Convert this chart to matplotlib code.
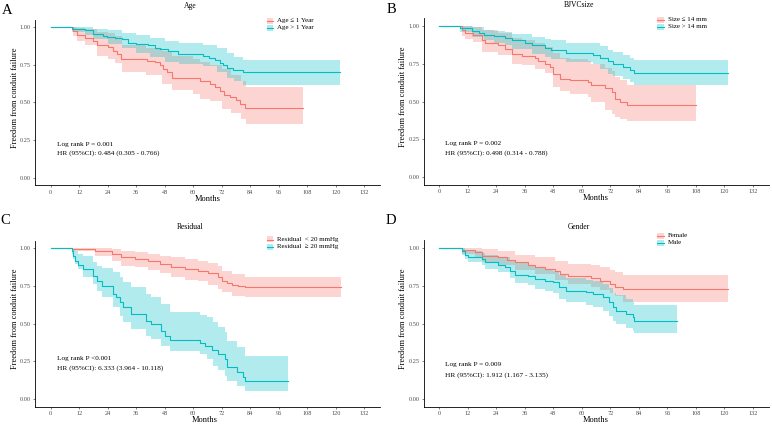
import matplotlib
matplotlib.use("Agg")
import matplotlib.pyplot as plt
from matplotlib.patches import Rectangle
from matplotlib.lines import Line2D

plt.rcParams['font.family'] = ['Liberation Serif', 'DejaVu Serif']

RED = "#F8766D"
CYAN = "#00BFC4"

# ---------------- DATA ----------------
# A: Age
age_le1_t = [0, 9.5, 10.9, 14.4, 17.9, 19.3, 24.0, 26.4, 27.8, 29.6, 40.4, 43.9, 46.0, 47.4, 48.8, 50.9, 62.8, 67.0, 69.0, 71.2, 73.0, 75.5, 78.0, 79.7, 81.8, 106.0]
age_le1_s = [1.0, 0.973, 0.947, 0.929, 0.907, 0.884, 0.869, 0.84, 0.822, 0.787, 0.774, 0.768, 0.747, 0.725, 0.703, 0.661, 0.643, 0.623, 0.60, 0.579, 0.55, 0.534, 0.517, 0.488, 0.466, 0.466]
age_le1_ci_t = [9.5, 11.0, 14.4, 19.3, 24.0, 27.0, 30.0, 40.0, 47.0, 51.0, 60.0, 63.0, 67.0, 72.0, 76.0, 80.0, 82.0, 106.0]
age_le1_lo = [0.94, 0.91, 0.88, 0.81, 0.79, 0.76, 0.70, 0.68, 0.625, 0.58, 0.555, 0.525, 0.51, 0.46, 0.43, 0.39, 0.36, 0.36]
age_le1_hi = [1.0, 0.995, 0.99, 0.97, 0.96, 0.94, 0.88, 0.86, 0.84, 0.81, 0.79, 0.77, 0.75, 0.72, 0.68, 0.64, 0.60, 0.60]

age_gt1_t = [0, 9.0, 14.4, 17.9, 22.2, 23.8, 27.0, 29.9, 32.6, 36.0, 41.0, 43.9, 46.0, 49.5, 53.7, 64.2, 66.8, 69.0, 71.2, 72.6, 74.0, 76.9, 81.0, 121.9]
age_gt1_s = [1.0, 0.99, 0.98, 0.957, 0.945, 0.935, 0.93, 0.924, 0.897, 0.89, 0.88, 0.865, 0.855, 0.84, 0.825, 0.812, 0.795, 0.782, 0.765, 0.748, 0.73, 0.715, 0.70, 0.70]
age_gt1_ci_t = [9.0, 14.4, 18.0, 24.0, 30.0, 36.0, 42.0, 48.0, 54.0, 64.0, 70.0, 74.0, 77.0, 81.0, 121.9]
age_gt1_lo = [0.97, 0.95, 0.92, 0.89, 0.86, 0.83, 0.80, 0.77, 0.755, 0.745, 0.70, 0.665, 0.64, 0.618, 0.618]
age_gt1_hi = [1.0, 1.0, 0.99, 0.98, 0.965, 0.95, 0.93, 0.91, 0.895, 0.885, 0.86, 0.83, 0.80, 0.785, 0.785]

# B: BJVC size
size_le14_t = [0, 9.4, 10.8, 14.3, 17.8, 19.2, 24.8, 27.6, 30.4, 34.6, 40.2, 41.6, 44.4, 46.5, 47.9, 50.7, 54.9, 62.6, 64.0, 69.7, 72.5, 73.9, 76.0, 78.8, 108.0]
size_le14_s = [1.0, 0.972, 0.956, 0.943, 0.905, 0.888, 0.872, 0.846, 0.813, 0.802, 0.788, 0.767, 0.751, 0.729, 0.685, 0.652, 0.641, 0.63, 0.612, 0.59, 0.565, 0.515, 0.495, 0.476, 0.476]
size_le14_ci_t = [9.4, 10.8, 14.3, 17.8, 24.8, 30.4, 34.6, 40.2, 44.4, 47.9, 50.7, 54.9, 62.6, 64.0, 69.7, 72.5, 73.9, 76.0, 78.8, 108.0]
size_le14_lo = [0.935, 0.916, 0.895, 0.828, 0.806, 0.751, 0.74, 0.718, 0.69, 0.597, 0.57, 0.553, 0.531, 0.50, 0.443, 0.42, 0.40, 0.385, 0.37, 0.37]
size_le14_hi = [1.0, 0.998, 0.995, 0.975, 0.955, 0.92, 0.91, 0.89, 0.86, 0.82, 0.79, 0.78, 0.77, 0.75, 0.72, 0.70, 0.665, 0.645, 0.608, 0.608]

size_gt14_t = [0, 8.9, 13.9, 16.7, 18.8, 23.0, 27.6, 30.4, 36.0, 38.8, 44.4, 47.2, 53.5, 64.5, 67.6, 71.1, 73.2, 77.4, 80.2, 82.0, 121.6]
size_gt14_s = [1.0, 0.987, 0.965, 0.954, 0.943, 0.934, 0.923, 0.905, 0.89, 0.872, 0.855, 0.841, 0.824, 0.81, 0.788, 0.767, 0.751, 0.729, 0.707, 0.689, 0.689]
size_gt14_ci_t = [8.9, 13.9, 18.8, 23.0, 27.6, 30.4, 38.8, 44.4, 47.2, 53.5, 64.5, 67.6, 71.1, 73.2, 77.4, 80.2, 82.0, 121.6]
size_gt14_lo = [0.96, 0.927, 0.905, 0.89, 0.872, 0.846, 0.817, 0.795, 0.78, 0.762, 0.751, 0.718, 0.685, 0.67, 0.652, 0.63, 0.608, 0.608]
size_gt14_hi = [1.0, 0.99, 0.975, 0.965, 0.96, 0.95, 0.93, 0.916, 0.905, 0.89, 0.885, 0.865, 0.84, 0.83, 0.806, 0.79, 0.773, 0.773]

# C: Residual
res_lt20_t = [0, 8.8, 18.6, 25.6, 29.8, 35.4, 41.0, 45.9, 50.8, 56.4, 62.0, 66.3, 70.6, 72.0, 74.1, 76.2, 79.0, 81.8, 122.0]
res_lt20_s = [1.0, 0.995, 0.984, 0.962, 0.94, 0.929, 0.914, 0.896, 0.874, 0.863, 0.851, 0.836, 0.808, 0.785, 0.768, 0.759, 0.748, 0.74, 0.74]
res_lt20_ci_t = [8.8, 18.6, 25.6, 29.8, 35.4, 41.0, 45.9, 50.8, 56.4, 62.0, 66.3, 70.6, 72.0, 76.2, 81.8, 122.0]
res_lt20_lo = [0.984, 0.951, 0.918, 0.885, 0.874, 0.856, 0.834, 0.808, 0.79, 0.781, 0.759, 0.73, 0.708, 0.686, 0.675, 0.675]
res_lt20_hi = [1.0, 1.0, 0.995, 0.985, 0.973, 0.962, 0.951, 0.94, 0.929, 0.915, 0.90, 0.88, 0.851, 0.83, 0.812, 0.812]

res_ge20_t = [0, 8.8, 9.5, 10.2, 11.6, 13.7, 17.9, 19.3, 21.4, 26.3, 27.7, 29.1, 30.5, 34.0, 40.3, 42.4, 46.6, 48.0, 50.1, 62.8, 65.0, 67.8, 70.6, 73.4, 74.1, 78.3, 81.1, 81.8, 100.0]
res_ge20_s = [1.0, 0.984, 0.951, 0.918, 0.891, 0.863, 0.818, 0.781, 0.752, 0.697, 0.68, 0.642, 0.609, 0.564, 0.52, 0.498, 0.453, 0.42, 0.394, 0.372, 0.35, 0.325, 0.299, 0.265, 0.214, 0.177, 0.148, 0.121, 0.121]
res_ge20_ci_t = [8.8, 9.5, 10.2, 11.6, 13.7, 17.9, 19.3, 21.4, 26.3, 29.1, 30.5, 34.0, 40.3, 42.4, 46.6, 50.1, 62.8, 65.6, 68.4, 70.6, 73.4, 74.1, 78.3, 81.8, 100.0]
res_ge20_lo = [0.96, 0.929, 0.896, 0.863, 0.808, 0.763, 0.719, 0.675, 0.609, 0.553, 0.509, 0.465, 0.42, 0.398, 0.354, 0.32, 0.30, 0.265, 0.221, 0.192, 0.155, 0.121, 0.088, 0.055, 0.055]
res_ge20_hi = [1.0, 0.99, 0.98, 0.965, 0.951, 0.907, 0.885, 0.87, 0.841, 0.808, 0.774, 0.741, 0.697, 0.675, 0.63, 0.575, 0.56, 0.542, 0.509, 0.476, 0.443, 0.387, 0.343, 0.288, 0.288]

# D: Gender
female_t = [0, 9.4, 15.0, 17.8, 24.8, 28.3, 31.8, 37.4, 40.2, 44.4, 48.6, 50.7, 54.2, 64.0, 67.6, 71.8, 73.9, 77.4, 121.6]
female_s = [1.0, 0.987, 0.971, 0.949, 0.938, 0.921, 0.905, 0.889, 0.876, 0.861, 0.85, 0.828, 0.813, 0.801, 0.779, 0.762, 0.744, 0.728, 0.728]
female_ci_t = [9.4, 15.0, 17.8, 24.8, 31.8, 40.2, 48.6, 54.2, 64.0, 67.6, 71.8, 73.9, 77.4, 121.6]
female_lo = [0.96, 0.94, 0.905, 0.89, 0.855, 0.83, 0.79, 0.765, 0.745, 0.72, 0.70, 0.68, 0.64, 0.64]
female_hi = [1.0, 1.0, 0.995, 0.98, 0.955, 0.938, 0.916, 0.894, 0.885, 0.872, 0.857, 0.84, 0.823, 0.823]

male_t = [0, 9.4, 10.8, 12.2, 17.8, 19.2, 24.8, 27.6, 29.7, 31.8, 37.4, 40.2, 44.4, 47.9, 50.5, 53.3, 61.7, 64.5, 68.7, 71.5, 72.9, 74.3, 78.5, 81.3, 82.0, 99.9]
male_s = [1.0, 0.978, 0.956, 0.942, 0.927, 0.905, 0.89, 0.872, 0.85, 0.823, 0.812, 0.795, 0.784, 0.773, 0.74, 0.717, 0.706, 0.695, 0.673, 0.64, 0.607, 0.585, 0.563, 0.541, 0.519, 0.519]
male_ci_t = [9.4, 10.8, 12.2, 17.8, 19.2, 24.8, 29.7, 31.8, 37.4, 40.2, 44.4, 47.9, 50.5, 53.3, 61.7, 64.5, 68.7, 71.5, 72.9, 74.3, 78.5, 81.3, 82.0, 99.9]
male_lo = [0.955, 0.93, 0.91, 0.885, 0.86, 0.84, 0.80, 0.77, 0.755, 0.73, 0.715, 0.70, 0.665, 0.64, 0.625, 0.61, 0.585, 0.55, 0.515, 0.495, 0.47, 0.45, 0.435, 0.435]
male_hi = [1.0, 0.99, 0.98, 0.965, 0.955, 0.94, 0.915, 0.90, 0.89, 0.87, 0.86, 0.845, 0.82, 0.80, 0.79, 0.78, 0.765, 0.735, 0.705, 0.69, 0.665, 0.645, 0.623, 0.623]

x_ticks = list(range(0, 133, 12))
y_ticks = [0.0, 0.25, 0.5, 0.75, 1.0]

# ---------------- FIGURE ----------------
W, H = 772, 428
fig = plt.figure(figsize=(W / 100, H / 100), dpi=100)


def fx(x):
    return x / W


def fy(y):
    return 1 - y / H


def make_axes(left, top, right, bottom):
    ax = fig.add_axes([fx(left), fy(bottom), (right - left) / W, (bottom - top) / H])
    ax.set_xlim(-6.6, 138.6)
    ax.set_ylim(-0.05, 1.05)
    ax.set_xticks(x_ticks)
    ax.set_yticks(y_ticks)
    ax.set_yticklabels([f"{v:.2f}" for v in y_ticks])
    for side in ("top", "right"):
        ax.spines[side].set_visible(False)
    for side in ("left", "bottom"):
        ax.spines[side].set_linewidth(0.6)
    ax.tick_params(labelsize=4.5, colors="#4D4D4D", length=1.6, width=0.5, pad=1.5)
    return ax


def draw_km(ax, t, s, ci_t, lo, hi, color):
    ax.fill_between(ci_t, lo, hi, step="post", color=color, alpha=0.3, lw=0)
    return lambda: ax.step(t, s, where="post", color=color, lw=0.8)


def legend(x, y, labels, dy=7.0):
    for i, (lab, col) in enumerate(zip(labels, [RED, CYAN])):
        yy = y + i * dy
        fig.add_artist(Rectangle((fx(x - 3.3), fy(yy + 3)), 6.6 / W, 6 / H,
                                 transform=fig.transFigure, color=col, alpha=0.3, lw=0))
        fig.add_artist(Line2D([fx(x - 3.3), fx(x + 3.3)], [fy(yy), fy(yy)],
                              transform=fig.transFigure, color=col, lw=0.8))
        fig.text(fx(x + 7), fy(yy), lab, fontsize=5, va="center", ha="left")


panels = [
    dict(box=(35, 19.8, 380, 185.2), letter="A", lpos=(7, 11), title="Age", tpos=(190, 6),
         ylab=(15, 97.5), xlab=(207.5, 199),
         curves=[(age_le1_t, age_le1_s, age_le1_ci_t, age_le1_lo, age_le1_hi),
                 (age_gt1_t, age_gt1_s, age_gt1_ci_t, age_gt1_lo, age_gt1_hi)],
         leg=(270, 20.7, ["Age \u2264 1 Year", "Age > 1 Year"]),
         txt=("Log rank P = 0.001", "HR (95%CI): 0.484 (0.305 - 0.766)", 0.224, 0.162)),
    dict(box=(423.6, 18.4, 768.7, 184.9), letter="B", lpos=(391.5, 9.5), title="BJVCsize", tpos=(579, 5),
         ylab=(402.7, 97), xlab=(596, 198.5),
         curves=[(size_le14_t, size_le14_s, size_le14_ci_t, size_le14_lo, size_le14_hi),
                 (size_gt14_t, size_gt14_s, size_gt14_ci_t, size_gt14_lo, size_gt14_hi)],
         leg=(660.5, 19.8, ["Size \u2264 14 mm", "Size > 14 mm"]),
         txt=("Log rank P = 0.002", "HR (95%CI): 0.498 (0.314 - 0.788)", 0.225, 0.159)),
    dict(box=(35, 240.8, 380, 406.5), letter="C", lpos=(5.5, 221), title="Residual", tpos=(190, 227),
         ylab=(15, 318.6), xlab=(205, 420.5),
         curves=[(res_lt20_t, res_lt20_s, res_lt20_ci_t, res_lt20_lo, res_lt20_hi),
                 (res_ge20_t, res_ge20_s, res_ge20_ci_t, res_ge20_lo, res_ge20_hi)],
         leg=(270, 239.5, ["Residual  < 20 mmHg", "Residual  \u2265 20 mmHg"]),
         txt=("Log rank P <0.001", "HR (95%CI): 6.333 (3.964 - 10.118)", 0.27, 0.206)),
    dict(box=(423.6, 240.5, 768.7, 406.5), letter="D", lpos=(391, 221), title="Gender", tpos=(579, 227),
         ylab=(402.7, 318.5), xlab=(596, 420.5),
         curves=[(female_t, female_s, female_ci_t, female_lo, female_hi),
                 (male_t, male_s, male_ci_t, male_lo, male_hi)],
         leg=(660.5, 235.7, ["Female", "Male"]),
         txt=("Log rank P = 0.009", "HR (95%CI): 1.912 (1.167 - 3.135)", 0.227, 0.161)),
]

for p in panels:
    ax = make_axes(*p["box"])
    lines = []
    for c, col in zip(p["curves"], [RED, CYAN]):
        lines.append(draw_km(ax, *c, col))
    for draw in lines:
        draw()
    t1, t2, y1, y2 = p["txt"]
    ax.text(2.5, y1, t1, fontsize=5.2, va="center", ha="left")
    ax.text(2.5, y2, t2, fontsize=5.2, va="center", ha="left")
    fig.text(fx(p["lpos"][0]), fy(p["lpos"][1]), p["letter"], fontsize=10.5, ha="center", va="center")
    fig.text(fx(p["tpos"][0]), fy(p["tpos"][1]), p["title"], fontsize=5.5, ha="center", va="center")
    fig.text(fx(p["ylab"][0]), fy(p["ylab"][1]), "Freedom from conduit failure", fontsize=6,
             rotation=90, ha="center", va="center")
    fig.text(fx(p["xlab"][0]), fy(p["xlab"][1]), "Months", fontsize=6, ha="center", va="center")
    legend(*p["leg"])

fig.savefig("out.png", dpi=100)
